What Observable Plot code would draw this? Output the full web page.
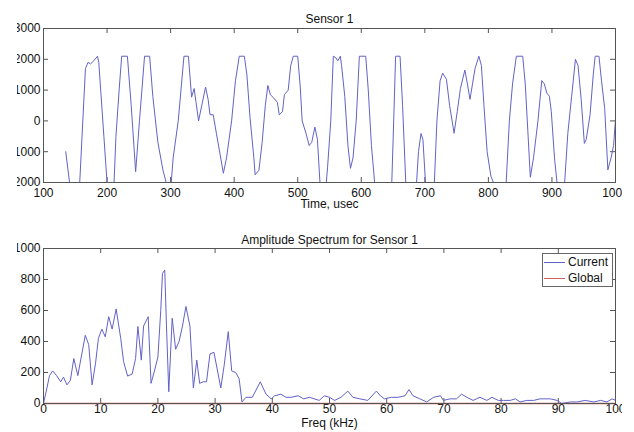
<!DOCTYPE html>
<html>
<head>
<meta charset="utf-8">
<script src="https://cdn.jsdelivr.net/npm/d3@7"></script>
<script src="https://cdn.jsdelivr.net/npm/@observablehq/plot@0.6"></script>
<style>
  html, body { margin: 0; padding: 0; background: #fff; }
  #wrap { position: relative; width: 634px; height: 432px; overflow: hidden; background: #fff; clip-path: inset(0 12px 0 17px); }
  #top, #bottom { position: absolute; left: 0; }
  #top { top: 0; }
  #bottom { top: 215px; }
  #legend { position: absolute; left: 542px; top: 253px; width: 71px; height: 34px; box-sizing: border-box;
            border: 1px solid #666; background: #fff; font: 12px "Liberation Sans", Arial, sans-serif; color: #111; }
  #legend .row { height: 16px; line-height: 16px; display: flex; align-items: center; }
  #legend .sw { display: inline-block; width: 21px; margin-left: 1px; margin-right: 3px; border-top: 1px solid; }
</style>
</head>
<body>
<div id="wrap">
  <div id="top"></div>
  <div id="bottom"></div>
  <div id="legend">
    <div class="row"><span class="sw" style="border-color:#6262c8"></span>Current</div>
    <div class="row"><span class="sw" style="border-color:#cc5f5f"></span>Global</div>
  </div>
</div>
<script>
// ---- Top panel: Sensor 1 time series ----
const sensorTime = [135,141,149,157,166,170,174,179,185,187,190,195,200,206,211,214,219,223,232,238,245,251,259,267,272,280,288,293,297,301,304,312,321,328,333,337,340,344,349,355,359,362,367,372,378,383,388,396,402,408,416,420,425,431,433,439,444,449,453,457,462,468,471,476,479,485,489,493,500,504,507,513,518,522,527,531,535,540,545,547,552,556,560,563,567,569,574,579,583,587,592,597,607,611,616,621,635,648,651,654,661,665,670,678,687,690,694,697,701,708,715,719,724,728,734,739,746,751,756,763,767,771,775,779,785,789,793,798,804,808,818,828,833,838,844,854,858,862,866,871,878,884,888,892,896,899,904,908,914,920,925,931,937,941,946,951,954,960,965,968,974,978,983,988,993,997,1000];
const sensorValue = [-1000,-2000,-2600,-2000,1700,1900,1850,1950,2100,1900,1000,-500,-2000,-2600,-2000,-500,1000,2100,2100,500,-1650,0,2100,2100,800,-700,-1600,-2000,-2400,-2000,-1200,0,2100,2100,770,1050,600,0,500,1100,700,200,200,-400,-1100,-1700,-1200,0,1300,2100,2100,1500,100,-1200,-1750,-1600,-700,500,1150,850,750,600,200,300,850,1000,1800,2100,2100,1100,0,-400,-800,-700,-200,-600,-2000,-2600,-2000,-1500,0,2100,2050,1950,2100,1800,800,-800,-1540,-1200,0,2100,2100,1000,-800,-2000,-2700,-2000,0,2100,2100,500,-2000,-2700,-2000,-1000,-410,-600,-2000,-2600,-2000,0,1300,1550,1350,500,-400,300,1050,1650,1200,700,1200,1700,2100,1800,500,-1000,-1800,-2000,-2700,-2000,0,1200,2100,2100,1200,-300,-1830,-1200,0,1310,1200,900,800,300,-1200,-2000,-2500,-2000,-400,800,2000,1800,700,-730,-600,200,1500,2100,2100,1300,400,-1590,-1200,-800,50];
const timeTicks = [100,200,300,400,500,600,700,800,900,1000];
const sensorTicks = [-2000,-1000,0,1000,2000,3000];

// ---- Bottom panel: Amplitude spectrum ----
const freq = [0,0.6,1.05,1.6,2.3,3.0,3.5,4.1,4.7,5.3,6.0,6.7,7.3,7.9,8.5,9.1,9.6,10.2,10.8,11.4,12.0,12.7,13.5,14.0,14.7,15.5,16.1,16.5,17.1,17.5,18.3,18.8,19.4,20.0,20.5,20.8,21.2,21.5,21.9,22.5,23.1,23.7,24.3,24.9,25.6,26.2,26.8,27.3,27.9,28.5,29.1,29.8,31.0,31.6,32.3,32.9,33.6,34.2,34.7,35.4,36.5,37.9,38.9,39.8,40.4,41.5,42.4,43.3,44.5,45.5,46.5,48.2,49.1,50.0,50.9,52.0,53.2,54.1,55.3,56.7,58.2,58.9,59.6,60.8,62.0,63.2,63.9,64.6,65.8,67.0,68.2,69.4,69.9,71.1,72.2,73.1,74.0,75.1,76.3,77.5,78.4,79.5,80.4,81.6,82.5,83.3,84.5,85.7,86.8,88.6,89.8,90.6,92.1,93.3,94.7,96.2,97.4,98.5,99.4,100];
const currentAmp = [0,100,180,210,180,140,170,120,150,290,180,320,440,380,120,260,420,480,430,560,480,610,420,270,177,190,290,497,280,500,560,130,210,300,600,840,860,500,76,550,350,400,500,626,500,100,280,130,140,140,320,330,100,250,464,210,200,160,10,40,40,140,60,30,50,60,40,40,50,30,40,20,50,40,20,40,80,40,30,20,80,50,30,40,40,50,90,50,30,10,40,50,20,30,30,60,40,20,40,20,40,20,20,20,30,10,20,20,30,30,20,0,10,10,20,10,20,10,30,20];
const globalFreq = [0,100];
const globalAmp = [0,0];
const freqTicks = [0,10,20,30,40,50,60,70,80,90,100];
const ampTicks = [0,200,400,600,800,1000];

const BLUE = "#6262c8", RED = "#cc5f5f", AX = "#555";
const FONT = "'Liberation Sans', Arial, sans-serif";

function panel({xs, ys, extra, xDomain, yDomain, xTicks, yTicks, height, mt, mb, xPad, title, titleDy, xlabel, xlabelDy}) {
  const ml = 43, mr = 19, W = 634;
  const fw = W - ml - mr, fh = height - mt - mb;
  const data = xs.map((x, i) => ({x, y: ys[i]}));
  const fmt = d => String(d);
  return Plot.plot({
    width: W, height,
    marginLeft: ml, marginRight: mr, marginTop: mt, marginBottom: mb,
    style: {fontFamily: FONT, fontSize: "12px", background: "white", color: "#111", overflow: "visible"},
    x: {domain: xDomain, label: null},
    y: {domain: yDomain, label: null},
    marks: [
      Plot.axisX(xTicks, {tickSize: 0, tickPadding: xPad, tickFormat: fmt, fontSize: 12, label: null}),
      Plot.axisY(yTicks, {tickSize: 0, tickPadding: 3, tickFormat: fmt, fontSize: 12, label: null}),
      Plot.tickX(xTicks, {x: d => d, insetTop: fh - 5, stroke: AX}),
      Plot.tickX(xTicks, {x: d => d, insetBottom: fh - 5, stroke: AX}),
      Plot.tickY(yTicks, {y: d => d, insetRight: fw - 5, stroke: AX}),
      Plot.tickY(yTicks, {y: d => d, insetLeft: fw - 5, stroke: AX}),
      ...(extra || []),
      Plot.line(data, {x: "x", y: "y", stroke: BLUE, strokeWidth: 1, clip: true}),
      Plot.frame({stroke: AX}),
      Plot.text([title], {frameAnchor: "top", dy: titleDy, fontSize: 12, fill: "#111"}),
      Plot.text([xlabel], {frameAnchor: "bottom", dy: xlabelDy, fontSize: 12, fill: "#111"})
    ]
  });
}

document.getElementById("top").append(panel({
  xs: sensorTime, ys: sensorValue,
  xDomain: [100, 1000], yDomain: [-2000, 3000],
  xTicks: timeTicks, yTicks: sensorTicks,
  height: 215, mt: 28, mb: 33, xPad: 6,
  title: "Sensor 1", titleDy: -14,
  xlabel: "Time, usec", xlabelDy: 25
}));

const globalData = globalFreq.map((f, i) => ({x: f, y: globalAmp[i]}));
document.getElementById("bottom").append(panel({
  xs: freq, ys: currentAmp,
  extra: [Plot.line(globalData, {x: "x", y: "y", stroke: RED, strokeWidth: 1.4})],
  xDomain: [0, 100], yDomain: [0, 1000],
  xTicks: freqTicks, yTicks: ampTicks,
  height: 217, mt: 33, mb: 29, xPad: 1,
  title: "Amplitude Spectrum for Sensor 1", titleDy: -13,
  xlabel: "Freq (kHz)", xlabelDy: 23
}));
</script>
</body>
</html>
